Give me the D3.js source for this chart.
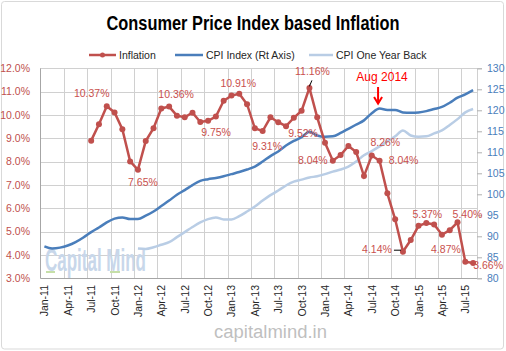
<!DOCTYPE html>
<html>
<head>
<meta charset="utf-8">
<script src="https://cdn.jsdelivr.net/npm/d3@7"></script>
<style>
  body { margin: 0; background: #fff; }
  text { font-family: "Liberation Sans", Arial, sans-serif; }
</style>
</head>
<body>
<script>
var w = 506;
var h = 351;

// months Jan-11 .. Aug-15
var months = ["Jan-11","Feb-11","Mar-11","Apr-11","May-11","Jun-11","Jul-11","Aug-11","Sep-11","Oct-11","Nov-11","Dec-11",
  "Jan-12","Feb-12","Mar-12","Apr-12","May-12","Jun-12","Jul-12","Aug-12","Sep-12","Oct-12","Nov-12","Dec-12",
  "Jan-13","Feb-13","Mar-13","Apr-13","May-13","Jun-13","Jul-13","Aug-13","Sep-13","Oct-13","Nov-13","Dec-13",
  "Jan-14","Feb-14","Mar-14","Apr-14","May-14","Jun-14","Jul-14","Aug-14","Sep-14","Oct-14","Nov-14","Dec-14",
  "Jan-15","Feb-15","Mar-15","Apr-15","May-15","Jun-15","Jul-15","Aug-15"];

// inflation % (left axis)
var inflation = [null,null,null,null,null,null,8.90,9.60,10.37,10.11,9.39,8.01,
  7.65,8.88,9.43,10.28,10.36,9.97,9.90,10.10,9.70,9.75,9.93,10.61,
  10.83,10.91,10.46,9.43,9.31,9.90,9.69,9.52,9.88,10.18,11.16,9.90,
  8.81,8.04,8.28,8.67,8.41,7.38,8.26,8.04,6.64,5.53,4.14,4.64,
  5.25,5.37,5.31,4.87,5.06,5.40,3.71,3.66];

// CPI index (right axis)
var cpiIndex = [87.6,87.1,87.3,87.8,88.6,89.7,91.0,92.1,93.3,94.2,94.5,94.1,
  94.1,94.9,95.9,97.2,98.5,99.9,101.0,102.2,103.2,103.6,103.9,104.3,
  104.8,105.3,105.9,106.6,107.8,109.1,110.2,111.6,112.7,113.6,114.9,114.0,
  113.7,113.8,114.6,115.6,116.6,117.6,119.3,120.4,120.1,120.1,119.5,119.4,
  119.5,119.8,120.3,120.8,121.8,123.0,123.8,124.8];

// CPI one year back (right axis)
var cpiYearBack = [null,null,null,null,null,null,null,null,null,null,null,null,
  87.1,87.0,87.4,88.0,88.6,89.8,91.0,92.2,93.3,94.1,94.5,94.0,
  94.0,94.8,95.9,97.1,98.5,99.8,100.9,102.1,103.0,103.5,104.0,104.3,
  104.8,105.4,105.9,106.6,107.8,109.3,110.3,111.4,112.6,113.8,115.2,114.0,
  113.7,113.8,114.5,115.2,116.5,117.9,119.5,120.3];

var labelMonths = ["Sep-11","Jan-12","May-12","Oct-12","Feb-13","May-13","Aug-13","Nov-13",
  "Feb-14","Jul-14","Aug-14","Nov-14","Feb-15","Apr-15","Jun-15","Aug-15"];

var leftTicks = [3,4,5,6,7,8,9,10,11,12];
var rightTicks = [80,85,90,95,100,105,110,115,120,125,130];

var red = "#c0504d", blue = "#4a7ebb", lightBlue = "#b9cde5";

var svg = d3.select("body").append("svg")
  .attr("width", w).attr("height", h);

svg.append("rect")
  .attr("x", 1.5).attr("y", 1.5).attr("width", 502).attr("height", 347.5)
  .attr("rx", 3).attr("fill", "#fff").attr("stroke", "#d9d9d9");

var x = d3.scaleBand().domain(months).range([40.5, 477]);
var yL = d3.scaleLinear().domain([3, 12]).range([278.3, 68.3]);
var yR = d3.scaleLinear().domain([80, 130]).range([278.3, 68.3]);
var cx = function(m) { return x(m) + x.bandwidth() / 2; };

// title
svg.append("text")
  .attr("x", 253).attr("y", 30)
  .attr("text-anchor", "middle")
  .attr("font-size", 20).attr("font-weight", "bold")
  .attr("textLength", 293).attr("lengthAdjust", "spacingAndGlyphs")
  .attr("fill", "#000")
  .text("Consumer Price Index based Inflation");

// legend
var legend = [
  {name: "Inflation", color: red, x1: 89, x2: 116, tx: 119, marker: true},
  {name: "CPI Index (Rt Axis)", color: blue, x1: 175, x2: 203, tx: 206, marker: false},
  {name: "CPI One Year Back", color: lightBlue, x1: 309, x2: 333, tx: 336, marker: false}
];
var lg = svg.append("g").selectAll("g").data(legend).enter().append("g");
lg.append("line")
  .attr("x1", d => d.x1).attr("x2", d => d.x2).attr("y1", 55).attr("y2", 55)
  .attr("stroke", d => d.color).attr("stroke-width", 2.5);
lg.filter(d => d.marker).append("circle")
  .attr("cx", d => (d.x1 + d.x2) / 2).attr("cy", 55).attr("r", 2.5).attr("fill", d => d.color);
lg.append("text")
  .attr("x", d => d.tx).attr("y", 55).attr("dy", "0.35em")
  .attr("font-size", 10.5).attr("fill", "#262626")
  .text(d => d.name);

// gridlines
svg.append("g").selectAll("line").data(leftTicks.slice(1)).enter().append("line")
  .attr("x1", 40.5).attr("x2", 477)
  .attr("y1", d => Math.round(yL(d)) + 0.5).attr("y2", d => Math.round(yL(d)) + 0.5)
  .attr("stroke", "#d0d0d0");
svg.append("g").selectAll("line").data(months.filter((m, i) => i % 3 == 0 && i > 0)).enter().append("line")
  .attr("x1", d => Math.round(x(d)) + 0.5).attr("x2", d => Math.round(x(d)) + 0.5)
  .attr("y1", 68.3).attr("y2", 278.3)
  .attr("stroke", "#d0d0d0");

// watermark
svg.append("text")
  .attr("x", 45).attr("y", 271)
  .attr("font-size", 31).attr("font-weight", "bold")
  .attr("textLength", 101).attr("lengthAdjust", "spacingAndGlyphs")
  .attr("fill", "#c8d7ea")
  .text("Capital Mind");
svg.append("rect").attr("x", 46).attr("y", 271).attr("width", 9).attr("height", 2).attr("fill", "#c6dfa8");
svg.append("rect").attr("x", 110).attr("y", 271).attr("width", 10).attr("height", 2).attr("fill", "#c6dfa8");

// axes lines
svg.append("line").attr("x1", 40.5).attr("x2", 40.5).attr("y1", 68.3).attr("y2", 278.5)
  .attr("stroke", "#a6a6a6");
svg.append("line").attr("x1", 40.5).attr("x2", 477).attr("y1", 278.5).attr("y2", 278.5)
  .attr("stroke", "#a6a6a6");

// left axis labels
svg.append("g").selectAll("text").data(leftTicks).enter().append("text")
  .attr("x", 30).attr("y", d => yL(d)).attr("dy", "0.35em")
  .attr("text-anchor", "end").attr("font-size", 10.5).attr("fill", red)
  .text(d => d3.format(".1f")(d) + "%");

// right axis
var rAxis = svg.append("g").attr("transform", "translate(477,0)")
  .call(d3.axisRight(yR).tickValues(rightTicks).tickSize(5).tickPadding(5));
rAxis.select(".domain").attr("stroke", "#d0d0d0");
rAxis.selectAll(".tick line").attr("stroke", "#b0b0b0");
rAxis.selectAll("text").attr("font-size", 10.5).attr("fill", blue)
  .attr("font-family", "Liberation Sans, Arial, sans-serif");

// x axis labels
svg.append("g").selectAll("text").data(months.filter((m, i) => i % 3 == 0)).enter().append("text")
  .attr("transform", d => "translate(" + (cx(d) + 4) + ",285) rotate(-90)")
  .attr("text-anchor", "end").attr("font-size", 10.5).attr("fill", "#262626")
  .text(d => d);

// lines
var rows = months.map((m, i) => ({m: m, inf: inflation[i], cpi: cpiIndex[i], back: cpiYearBack[i]}));

svg.append("path").datum(rows.filter(d => d.back != null))
  .attr("fill", "none").attr("stroke", lightBlue).attr("stroke-width", 2.5)
  .attr("d", d3.line().x(d => cx(d.m)).y(d => yR(d.back)).curve(d3.curveMonotoneX));

svg.append("path").datum(rows)
  .attr("fill", "none").attr("stroke", blue).attr("stroke-width", 2.5)
  .attr("d", d3.line().x(d => cx(d.m)).y(d => yR(d.cpi)).curve(d3.curveMonotoneX));

var infRows = rows.filter(d => d.inf != null);
svg.append("path").datum(infRows)
  .attr("fill", "none").attr("stroke", red).attr("stroke-width", 2.5)
  .attr("d", d3.line().x(d => cx(d.m)).y(d => yL(d.inf)));
svg.append("g").selectAll("circle").data(infRows).enter().append("circle")
  .attr("cx", d => cx(d.m)).attr("cy", d => yL(d.inf)).attr("r", 3).attr("fill", red);

// data labels
var labelOffset = {
  "Sep-11": [-15, -13], "Jan-12": [5, 12.5], "May-12": [7, -12.6], "Oct-12": [8, 12],
  "Feb-13": [-1, -10.5], "May-13": [4.5, 15], "Aug-13": [17, 7.5], "Nov-13": [3, -16.6],
  "Feb-14": [-20, 0], "Jul-14": [13.5, -13], "Aug-14": [24, 0], "Nov-14": [-26, -2],
  "Feb-15": [1, -9], "Apr-15": [4, 14.5], "Jun-15": [10, -8], "Aug-15": [15, 2]
};
var labelRows = rows.filter(d => labelMonths.indexOf(d.m) >= 0);
svg.append("g").selectAll("text").data(labelRows).enter().append("text")
  .attr("x", d => cx(d.m) + labelOffset[d.m][0])
  .attr("y", d => yL(d.inf) + labelOffset[d.m][1])
  .attr("dy", "0.35em").attr("text-anchor", "middle")
  .attr("font-size", 10.5).attr("fill", "#c9504d")
  .text(d => d3.format(".2f")(d.inf) + "%");

// leader lines
var nov13 = rows[months.indexOf("Nov-13")];
svg.append("line")
  .attr("x1", cx(nov13.m) + 2.5).attr("y1", yL(nov13.inf) - 7.5)
  .attr("x2", cx(nov13.m)).attr("y2", yL(nov13.inf) - 1.5)
  .attr("stroke", "#000");
var nov14 = rows[months.indexOf("Nov-14")];
svg.append("line")
  .attr("x1", cx(nov14.m) - 9).attr("y1", yL(nov14.inf) - 1.5)
  .attr("x2", cx(nov14.m) - 2).attr("y2", yL(nov14.inf) - 1.5)
  .attr("stroke", "#000");

// Aug 2014 annotation
var ax = cx("Aug-14") - 1.5;
svg.append("text")
  .attr("x", ax + 4).attr("y", 81)
  .attr("text-anchor", "middle").attr("font-size", 12).attr("fill", "#ff0000")
  .text("Aug 2014");
svg.append("line").attr("x1", ax).attr("x2", ax).attr("y1", 87).attr("y2", 103)
  .attr("stroke", "#ff0000").attr("stroke-width", 2);
svg.append("polyline")
  .attr("points", [[ax - 4, 97], [ax, 103.5], [ax + 4, 97]].join(" "))
  .attr("fill", "none").attr("stroke", "#ff0000").attr("stroke-width", 2);

// footer
svg.append("text")
  .attr("x", 270.5).attr("y", 338)
  .attr("text-anchor", "middle").attr("font-size", 18)
  .attr("textLength", 113).attr("lengthAdjust", "spacingAndGlyphs")
  .attr("fill", "#bfbfbf")
  .text("capitalmind.in");
</script>
</body>
</html>
